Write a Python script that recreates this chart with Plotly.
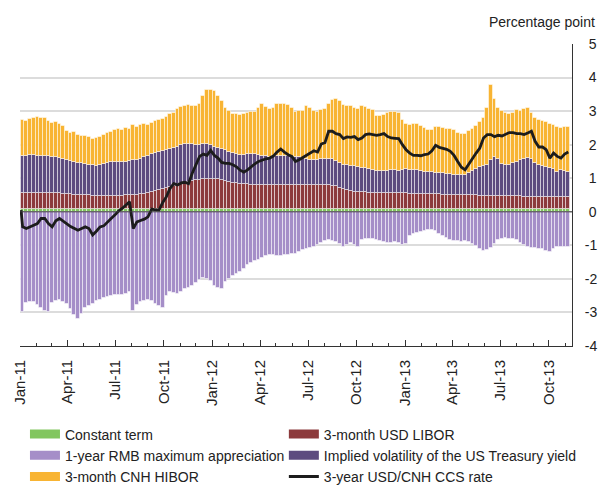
import pandas as pd
import plotly.graph_objects as go

# ---------------- data (weekly observations, percentage points) ----------------
START = "2011-01-06"

LIBOR = [
    0.47, 0.48, 0.48, 0.48, 0.48, 0.48, 0.48, 0.48, 0.48, 0.47,
    0.47, 0.46, 0.45, 0.44, 0.43, 0.42, 0.42, 0.41, 0.41, 0.40,
    0.40, 0.40, 0.40, 0.40, 0.40, 0.40, 0.40, 0.40, 0.41, 0.41,
    0.42, 0.43, 0.44, 0.46, 0.49, 0.51, 0.53, 0.56, 0.59, 0.63,
    0.67, 0.70, 0.74, 0.77, 0.80, 0.82, 0.85, 0.87, 0.88, 0.90,
    0.91, 0.91, 0.90, 0.89, 0.88, 0.85, 0.82, 0.79, 0.77, 0.76,
    0.75, 0.74, 0.73, 0.73, 0.73, 0.73, 0.73, 0.73, 0.73, 0.73,
    0.73, 0.73, 0.73, 0.73, 0.73, 0.72, 0.72, 0.72, 0.72, 0.72,
    0.72, 0.72, 0.71, 0.71, 0.70, 0.69, 0.64, 0.61, 0.57, 0.54,
    0.52, 0.51, 0.50, 0.50, 0.49, 0.49, 0.49, 0.48, 0.48, 0.48,
    0.48, 0.47, 0.47, 0.47, 0.47, 0.46, 0.46, 0.46, 0.45, 0.45,
    0.45, 0.44, 0.44, 0.44, 0.43, 0.43, 0.43, 0.42, 0.42, 0.42,
    0.42, 0.41, 0.41, 0.41, 0.40, 0.40, 0.40, 0.40, 0.39, 0.39,
    0.39, 0.39, 0.38, 0.38, 0.38, 0.38, 0.37, 0.37, 0.37, 0.37,
    0.37, 0.36, 0.36, 0.36, 0.36, 0.36, 0.36, 0.36, 0.36,
]

VOLATILITY = [
    1.11, 1.09, 1.12, 1.13, 1.11, 1.10, 1.10, 1.10, 1.08, 1.07,
    1.05, 1.03, 1.01, 0.98, 0.96, 0.95, 0.94, 0.93, 0.91, 0.90,
    0.89, 0.91, 0.94, 0.98, 0.99, 1.01, 1.00, 0.99, 0.99, 1.01,
    1.03, 1.04, 1.06, 1.08, 1.10, 1.13, 1.14, 1.13, 1.13, 1.13,
    1.12, 1.12, 1.12, 1.13, 1.13, 1.13, 1.09, 1.05, 1.04, 1.05,
    1.03, 0.99, 0.96, 0.93, 0.90, 0.90, 0.89, 0.87, 0.87, 0.86,
    0.87, 0.90, 0.92, 0.90, 0.87, 0.86, 0.85, 0.82, 0.81, 0.84,
    0.85, 0.85, 0.84, 0.83, 0.81, 0.84, 0.80, 0.77, 0.75, 0.74,
    0.74, 0.76, 0.78, 0.79, 0.78, 0.75, 0.74, 0.71, 0.73, 0.74,
    0.75, 0.74, 0.73, 0.72, 0.71, 0.68, 0.65, 0.65, 0.66, 0.67,
    0.68, 0.69, 0.68, 0.70, 0.72, 0.71, 0.70, 0.70, 0.69, 0.67,
    0.66, 0.66, 0.65, 0.65, 0.64, 0.63, 0.61, 0.60, 0.59, 0.59,
    0.60, 0.66, 0.72, 0.78, 0.85, 0.88, 0.91, 1.07, 1.16, 1.09,
    0.96, 0.92, 0.94, 0.98, 1.02, 1.08, 1.13, 1.15, 1.11, 1.01,
    0.94, 0.92, 0.89, 0.86, 0.83, 0.75, 0.80, 0.77, 0.75,
]

HIBOR = [
    1.09, 1.07, 1.08, 1.11, 1.15, 1.14, 1.12, 1.06, 1.02, 1.06,
    1.02, 0.98, 0.86, 0.85, 0.91, 0.85, 0.82, 0.83, 0.82, 0.78,
    0.83, 0.83, 0.88, 0.89, 0.91, 0.96, 1.00, 0.98, 1.02, 0.98,
    1.07, 0.97, 1.02, 1.00, 0.93, 0.93, 0.95, 0.97, 0.96, 0.99,
    1.03, 1.05, 1.11, 1.14, 1.15, 1.15, 1.13, 1.14, 1.20, 1.42,
    1.60, 1.65, 1.66, 1.55, 1.44, 1.27, 1.21, 1.18, 1.18, 1.19,
    1.20, 1.23, 1.25, 1.25, 1.42, 1.53, 1.46, 1.44, 1.48, 1.55,
    1.56, 1.54, 1.52, 1.46, 1.36, 1.36, 1.40, 1.58, 1.53, 1.46,
    1.43, 1.46, 1.50, 1.62, 1.76, 1.84, 1.84, 1.78, 1.78, 1.79,
    1.75, 1.74, 1.84, 1.82, 1.78, 1.77, 1.63, 1.63, 1.65, 1.72,
    1.74, 1.73, 1.72, 1.50, 1.36, 1.35, 1.38, 1.39, 1.33, 1.30,
    1.26, 1.27, 1.35, 1.36, 1.35, 1.34, 1.34, 1.33, 1.27, 1.24,
    1.23, 1.25, 1.27, 1.30, 1.35, 1.44, 1.71, 2.23, 1.72, 1.54,
    1.57, 1.56, 1.52, 1.51, 1.54, 1.46, 1.48, 1.48, 1.39, 1.32,
    1.34, 1.36, 1.35, 1.32, 1.31, 1.34, 1.26, 1.33, 1.34,
]

RMB_APPRECIATION = [
    -3.00, -2.72, -2.68, -2.70, -2.78, -2.87, -2.95, -2.98, -2.72, -2.66,
    -2.63, -2.68, -2.76, -2.90, -3.07, -3.20, -3.06, -2.88, -2.80, -2.74,
    -2.67, -2.62, -2.57, -2.53, -2.52, -2.49, -2.48, -2.47, -2.45, -2.40,
    -2.97, -2.78, -2.70, -2.67, -2.63, -2.66, -2.74, -2.80, -2.88, -2.50,
    -2.40, -2.42, -2.44, -2.38, -2.30, -2.28, -2.20, -2.12, -2.02, -1.96,
    -2.00, -2.05, -2.22, -2.28, -2.30, -2.10, -2.00, -1.90, -1.85, -1.80,
    -1.70, -1.60, -1.52, -1.48, -1.45, -1.38, -1.32, -1.28, -1.30, -1.33,
    -1.32, -1.30, -1.28, -1.26, -1.25, -1.20, -1.14, -1.10, -1.09, -1.04,
    -0.98, -0.94, -0.88, -0.85, -0.86, -0.90, -0.96, -1.04, -0.98, -0.94,
    -1.00, -1.04, -0.85, -0.80, -0.80, -0.82, -0.84, -0.88, -0.90, -0.93,
    -0.94, -0.90, -0.92, -0.98, -0.95, -0.72, -0.66, -0.63, -0.60, -0.57,
    -0.55, -0.55, -0.58, -0.66, -0.72, -0.78, -0.84, -0.86, -0.88, -0.89,
    -0.88, -0.90, -0.96, -1.02, -1.12, -1.18, -1.14, -1.09, -0.95, -0.84,
    -0.80, -0.79, -0.80, -0.82, -0.85, -0.92, -0.99, -1.04, -1.08, -1.09,
    -1.10, -1.12, -1.16, -1.19, -1.10, -1.04, -1.04, -1.05, -1.04,
]

CONSTANT_TERM_VALUE = 0.08

CCS_START_DATE = "2011-01-03"
CCS_START_VALUE = 0.05
CCS_RATE = [
    -0.45, -0.50, -0.44, -0.40, -0.35, -0.20, -0.20, -0.35, -0.45, -0.27,
    -0.20, -0.27, -0.36, -0.44, -0.50, -0.55, -0.50, -0.45, -0.50, -0.69,
    -0.58, -0.45, -0.42, -0.30, -0.20, -0.10, 0.02, 0.10, 0.20, 0.30,
    -0.50, -0.30, -0.26, -0.22, -0.15, 0.08, 0.06, 0.05, 0.28, 0.45,
    0.70, 0.84, 0.80, 0.86, 0.88, 0.84, 1.15, 1.40, 1.65, 1.72,
    1.68, 1.83, 1.68, 1.60, 1.47, 1.44, 1.44, 1.40, 1.34, 1.24,
    1.18, 1.25, 1.35, 1.43, 1.50, 1.55, 1.58, 1.60, 1.66, 1.78,
    1.87, 1.78, 1.70, 1.65, 1.50, 1.55, 1.62, 1.70, 1.75, 1.82,
    1.78, 2.02, 2.06, 2.40, 2.40, 2.33, 2.30, 2.18, 2.23, 2.22,
    2.24, 2.15, 2.20, 2.30, 2.32, 2.30, 2.28, 2.30, 2.33, 2.24,
    2.20, 2.19, 2.18, 2.00, 1.85, 1.75, 1.68, 1.68, 1.67, 1.70,
    1.72, 1.82, 1.98, 1.92, 1.90, 1.86, 1.80, 1.68, 1.50, 1.33,
    1.25, 1.43, 1.60, 1.75, 1.90, 2.20, 2.30, 2.30, 2.24, 2.28,
    2.26, 2.30, 2.36, 2.36, 2.33, 2.33, 2.30, 2.35, 2.40, 2.10,
    1.93, 1.93, 1.85, 1.60, 1.75, 1.65, 1.60, 1.72, 1.78,
]

Y_TICKS = [-4, -3, -2, -1, 0, 1, 2, 3, 4, 5]
X_RANGE = ["2011-01-01", "2013-11-14"]

# ---------------- styling ----------------
GREEN = "#82c65f"
LIGHT_PURPLE = "#a58ec8"
DARK_RED = "#8c3a3c"
DARK_PURPLE = "#5d4b7f"
ORANGE = "#f8b433"
BLACK = "#1c1c1c"
FONT = "Liberation Sans, Arial, sans-serif"
TXT = "#222222"

N = len(LIBOR)
dates = pd.date_range(START, periods=N, freq="7D")
constant = [CONSTANT_TERM_VALUE] * N
ccs_dates = [pd.Timestamp(CCS_START_DATE)] + list(dates)
ccs_vals = [CCS_START_VALUE] + CCS_RATE

bar_line = dict(color="rgba(255,255,255,0.5)", width=1)

fig = go.Figure()
series = [
    ("Constant term", constant, GREEN),
    ("1-year RMB maximum appreciation", RMB_APPRECIATION, LIGHT_PURPLE),
    ("3-month USD LIBOR", LIBOR, DARK_RED),
    ("Implied volatility of the US Treasury yield", VOLATILITY, DARK_PURPLE),
    ("3-month CNH HIBOR", HIBOR, ORANGE),
]
for name, vals, col in series:
    fig.add_trace(go.Bar(x=dates, y=vals, name=name, marker=dict(color=col, line=bar_line),
                         showlegend=False))

fig.add_trace(go.Scatter(x=ccs_dates, y=ccs_vals, mode="lines", name="3-year USD/CNH CCS rate",
                         line=dict(color=BLACK, width=2.8), showlegend=False))

# legend entries (two columns)
legend_items = [
    ("Constant term", GREEN, 9, "legend"),
    ("1-year RMB maximum appreciation", LIGHT_PURPLE, 9, "legend"),
    ("3-month CNH HIBOR", ORANGE, 9, "legend"),
    ("3-month USD LIBOR", DARK_RED, 9, "legend2"),
    ("Implied volatility of the US Treasury yield", DARK_PURPLE, 9, "legend2"),
    ("3-year USD/CNH CCS rate", BLACK, 2.8, "legend2"),
]
for name, col, w, lg in legend_items:
    fig.add_trace(go.Scatter(x=[None], y=[None], mode="lines", name=name,
                             line=dict(color=col, width=w), legend=lg, showlegend=True))

ticktext = [("\u00a0" + str(v)) if v >= 0 else str(v) for v in Y_TICKS]

fig.update_layout(
    width=599, height=485,
    margin=dict(l=20, r=27, t=44, b=139, autoexpand=False),
    paper_bgcolor="white", plot_bgcolor="white",
    barmode="relative", bargap=0,
    font=dict(family=FONT, size=14, color=TXT),
    xaxis=dict(
        type="date", range=X_RANGE,
        showline=True, linecolor="#333333", linewidth=1,
        ticks="inside", ticklen=6, tickcolor="#333333", tickwidth=1,
        dtick="M3", tick0="2011-01-01", tickformat="%b-%y", tickangle=-90,
        tickfont=dict(size=15, color=TXT), ticklabelstandoff=7,
        showgrid=False, zeroline=False,
        minor=dict(dtick="M1", ticks="inside", ticklen=3, tickcolor="#333333", showgrid=False),
    ),
    yaxis=dict(
        side="right", range=[-4, 5],
        tickvals=Y_TICKS, ticktext=ticktext,
        showgrid=True, gridcolor="#dcdcdc", gridwidth=1.5,
        showline=True, linecolor="#333333", linewidth=1,
        zeroline=False, ticks="", ticklabelstandoff=9,
        tickfont=dict(size=14, color=TXT),
    ),
    legend=dict(x=0.009, y=-0.24, xanchor="left", yanchor="top",
                font=dict(size=14, color=TXT), bgcolor="rgba(0,0,0,0)",
                itemwidth=30, tracegroupgap=0),
    legend2=dict(x=0.478, y=-0.24, xanchor="left", yanchor="top",
                 font=dict(size=14, color=TXT), bgcolor="rgba(0,0,0,0)",
                 itemwidth=30, tracegroupgap=0),
    shapes=[dict(type="line", xref="paper", yref="y", x0=0, x1=1, y0=0, y1=0,
                 line=dict(color="#3a3a3a", width=1), layer="above")],
    annotations=[dict(text="Percentage point", xref="paper", yref="paper",
                      x=1.045, y=1.073, xanchor="right", yanchor="middle",
                      showarrow=False, font=dict(size=14, color=TXT))],
)

# remove the browser's default 8px page margin so the 599x485 figure fills the window
fig.write_html("out.html", config={"displayModeBar": False},
               post_script="document.body.style.margin='0px';")
